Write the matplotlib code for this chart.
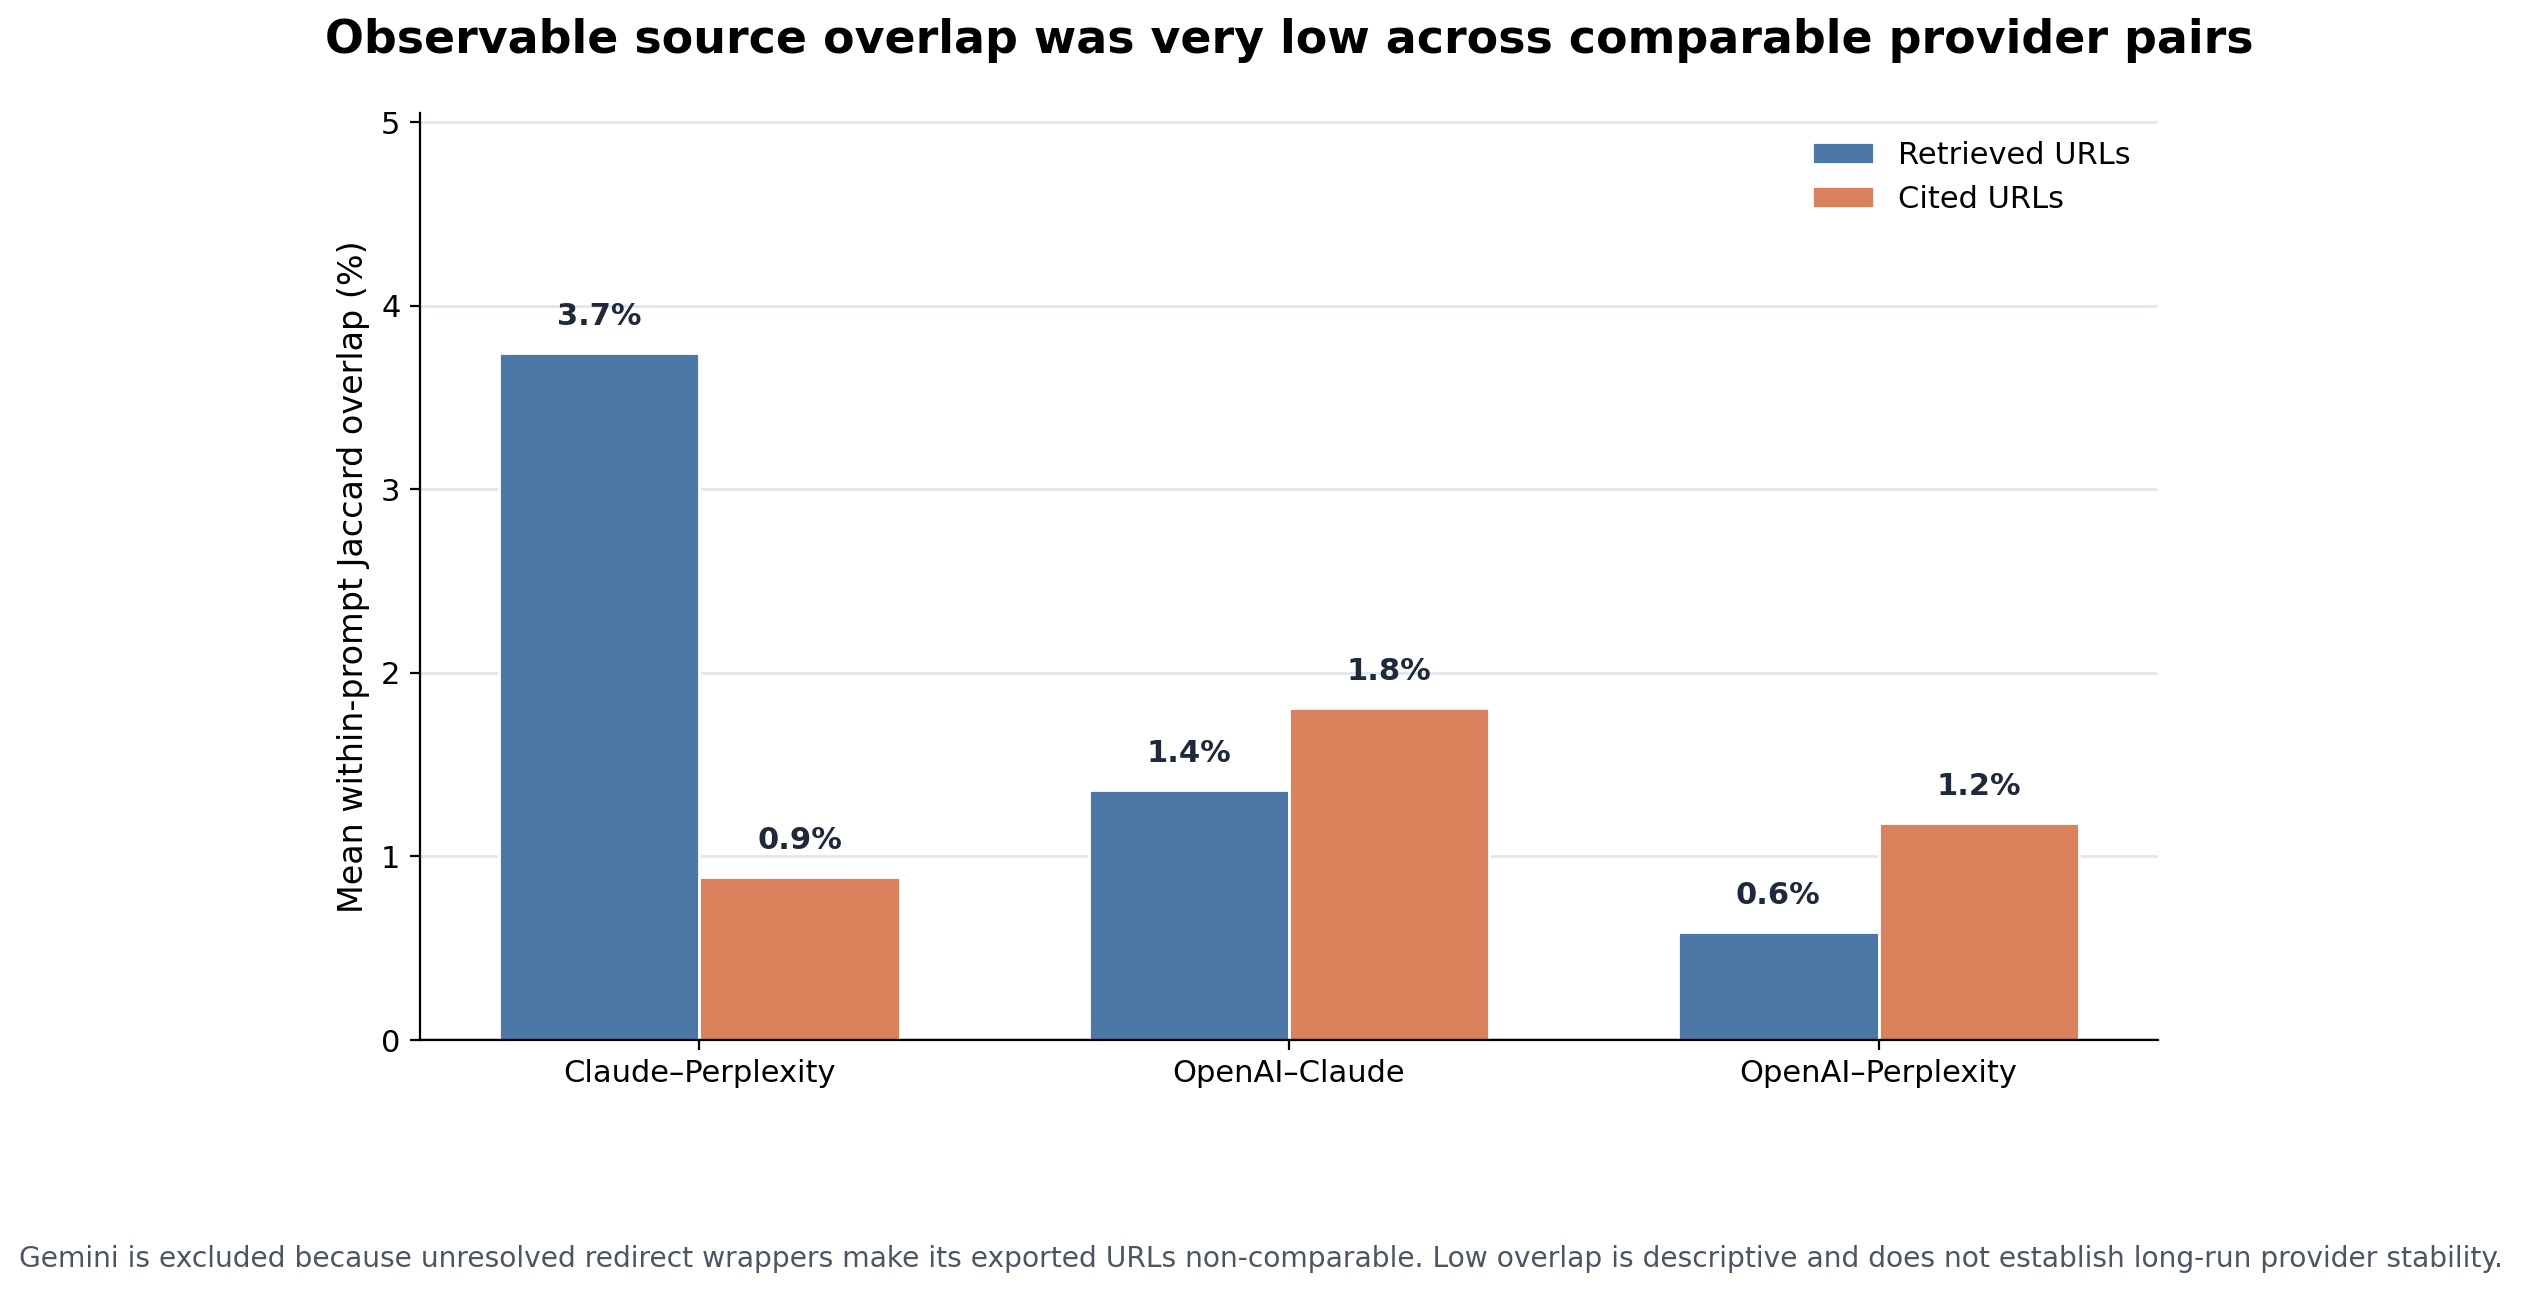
import matplotlib
matplotlib.use("Agg")
import matplotlib.pyplot as plt
import numpy as np

pairs = ["Claude–Perplexity", "OpenAI–Claude", "OpenAI–Perplexity"]
retrieved = [3.74, 1.36, 0.59]
cited = [0.89, 1.81, 1.18]
series_names = ["Retrieved URLs", "Cited URLs"]
colors = ["#4C78A8", "#DA825B"]

title = "Observable source overlap was very low across comparable provider pairs"
ylabel = "Mean within-prompt Jaccard overlap (%)"
footnote = ("Gemini is excluded because unresolved redirect wrappers make its exported URLs "
            "non-comparable. Low overlap is descriptive and does not establish long-run provider stability.")

fig = plt.figure(figsize=(12.61, 6.475), dpi=200)
ax = fig.add_axes([0.1665, 0.1969, 0.8557 - 0.1665, 0.9127 - 0.1969])

x = np.arange(len(pairs))
w = 0.34
b1 = ax.bar(x - w / 2, retrieved, w, color=colors[0], edgecolor="white", linewidth=1, label=series_names[0], zorder=3)
b2 = ax.bar(x + w / 2, cited, w, color=colors[1], edgecolor="white", linewidth=1, label=series_names[1], zorder=3)

for bars, vals in ((b1, retrieved), (b2, cited)):
    for rect, v in zip(bars, vals):
        ax.text(rect.get_x() + rect.get_width() / 2, v + 0.12, f"{v:.1f}%",
                ha="center", va="bottom", fontsize=11, fontweight="bold", color="#1E293B", zorder=4)

ax.set_ylim(0, max(retrieved) * 1.35)
ax.set_xticks(x)
ax.set_xticklabels(pairs, fontsize=11)
ax.tick_params(axis="y", labelsize=11)
ax.set_ylabel(ylabel, fontsize=12)
ax.set_title(title, fontsize=16.5, fontweight="bold", pad=21.5)
ax.yaxis.grid(True, color="#E2E6EE", linewidth=1, zorder=0)
ax.set_axisbelow(True)
ax.spines["top"].set_visible(False)
ax.spines["right"].set_visible(False)
ax.axhline(0, color="black", linewidth=1.2, zorder=5)
ax.legend(loc="upper right", frameon=False, fontsize=11)

fig.text(0.5, 0.028, footnote, ha="center", va="center", fontsize=10.15, color="#4B5563")

fig.savefig("out.png", dpi=200)
